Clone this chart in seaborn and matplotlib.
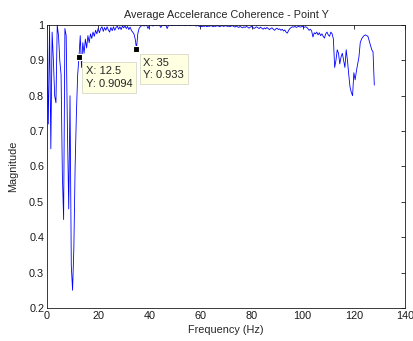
import numpy as np
import pandas as pd
import matplotlib
matplotlib.use('Agg')
import matplotlib.pyplot as plt
import seaborn as sns

# frequency grid is 0.5 Hz from 0 to 128 Hz (data tip says X: 12.5)
freq_step = 0.5
freq_max = 128.0

# coherence values, 10 values (5 Hz) per row
coherence = [
    0.93, 0.72, 1.00, 0.65, 0.98, 0.90, 0.80, 0.78, 1.00, 0.97,
    0.90, 0.86, 0.58, 0.45, 0.99, 0.97, 0.70, 0.48, 0.80, 0.32,
    0.25, 0.37, 0.60, 0.75, 0.86, 0.9094, 0.97, 0.88, 0.95, 0.92,
    0.96, 0.935, 0.97, 0.95, 0.975, 0.962, 0.98, 0.968, 0.985, 0.975,
    0.99, 0.978, 0.99, 0.995, 0.982, 0.993, 0.985, 0.995, 0.986, 0.98,
    0.993, 0.984, 0.995, 0.985, 0.993, 0.997, 0.988, 0.995, 0.987, 0.997,
    0.992, 0.998, 0.99, 0.996, 0.987, 0.994, 0.985, 0.98, 0.975, 0.96,
    0.933, 0.975, 0.99, 0.995, 0.998, 0.999, 0.997, 1.0, 0.999, 0.99,
    0.998, 1.0, 0.999, 0.997, 1.0, 0.999, 0.998, 1.0, 0.999, 0.993,
    0.999, 1.0, 0.998, 0.999, 0.99, 0.999, 1.0, 0.999, 0.998, 1.0,
    0.999, 1.0, 0.999, 0.998, 1.0, 0.999, 1.0, 0.999, 0.998, 0.999,
    1.0, 0.999, 0.998, 0.999, 1.0, 0.999, 0.998, 0.997, 0.999, 0.996,
    0.997, 0.995, 0.997, 0.996, 0.998, 0.995, 0.997, 0.996, 0.998, 0.997,
    0.995, 0.997, 0.996, 0.998, 0.997, 0.995, 0.997, 0.998, 0.996, 0.997,
    0.998, 0.996, 0.997, 0.995, 0.997, 0.998, 0.996, 0.994, 0.997, 0.995,
    0.993, 0.996, 0.994, 0.992, 0.995, 0.993, 0.996, 0.994, 0.991, 0.994,
    0.996, 0.993, 0.99, 0.993, 0.995, 0.992, 0.99, 0.994, 0.991, 0.988,
    0.992, 0.989, 0.993, 0.99, 0.987, 0.99, 0.992, 0.988, 0.985, 0.989,
    0.991, 0.987, 0.989, 0.985, 0.988, 0.983, 0.986, 0.98, 0.977, 0.985,
    0.99, 0.993, 0.995, 0.994, 0.996, 0.993, 0.995, 0.996, 0.994, 0.995,
    0.996, 0.993, 0.995, 0.994, 0.99, 0.985, 0.988, 0.983, 0.966, 0.978,
    0.975, 0.98, 0.972, 0.978, 0.97, 0.975, 0.968, 0.963, 0.975, 0.98,
    0.972, 0.968, 0.98, 0.975, 0.96, 0.88, 0.90, 0.93, 0.92, 0.89,
    0.91, 0.92, 0.90, 0.88, 0.93, 0.90, 0.86, 0.825, 0.81, 0.80,
    0.865, 0.845, 0.87, 0.89, 0.91, 0.95, 0.96, 0.966, 0.97, 0.972,
    0.97, 0.968, 0.955, 0.943, 0.93, 0.924, 0.83,
]

# data tips shown on the chart
tip_x = [12.5, 35]
tip_y = [0.9094, 0.933]
tip_labels = ['X: 12.5\nY: 0.9094', 'X: 35\nY: 0.933']

x_ticks = [0, 20, 40, 60, 80, 100, 120, 140]
y_ticks = [0.2, 0.3, 0.4, 0.5, 0.6, 0.7, 0.8, 0.9, 1]
y_ticklabels = ['0.2', '0.3', '0.4', '0.5', '0.6', '0.7', '0.8', '0.9', '1']

freq = np.arange(0, freq_max + freq_step / 2, freq_step)
df = pd.DataFrame({'Frequency': freq, 'Magnitude': coherence})

sns.set_style('white')
plt.rcParams['font.family'] = ['Liberation Sans', 'DejaVu Sans']
plt.rcParams['font.size'] = 7.8

fig = plt.figure(figsize=(4.13, 3.41), dpi=100)
ax = fig.add_axes([0.1138, 0.0968, 0.8668, 0.8299])

sns.lineplot(data=df, x='Frequency', y='Magnitude', ax=ax, color='#0000ff', linewidth=0.6)

ax.set_xlim(0, 140)
ax.set_ylim(0.2, 1)
ax.set_xticks(x_ticks)
ax.set_yticks(y_ticks)
ax.set_yticklabels(y_ticklabels)
ax.tick_params(direction='in', length=3, width=0.6, top=True, right=True,
               labelsize=7.8, colors='#1a1a1a', pad=2)
for s in ax.spines.values():
    s.set_linewidth(0.6)
    s.set_color('#1a1a1a')

ax.set_title('Average Accelerance Coherence - Point Y', fontsize=7.8, pad=5)
ax.set_xlabel('Frequency (Hz)', fontsize=7.8, labelpad=3)
ax.set_ylabel('Magnitude', fontsize=7.8, labelpad=8)

# data tip markers and their yellow boxes
ax.scatter(tip_x, tip_y, marker='s', s=22, color='black', edgecolors='#fffff0',
           linewidths=0.8, zorder=5)
for x, y, lab in zip(tip_x, tip_y, tip_labels):
    ax.annotate(lab, xy=(x, y), xytext=(7, -9), textcoords='offset pixels',
                ha='left', va='top', fontsize=8, linespacing=1.35,
                bbox=dict(boxstyle='square,pad=0.35', fc='#ffffe1', ec='#d8d8c8', lw=0.6),
                zorder=6)

fig.savefig('out.png', dpi=100)
